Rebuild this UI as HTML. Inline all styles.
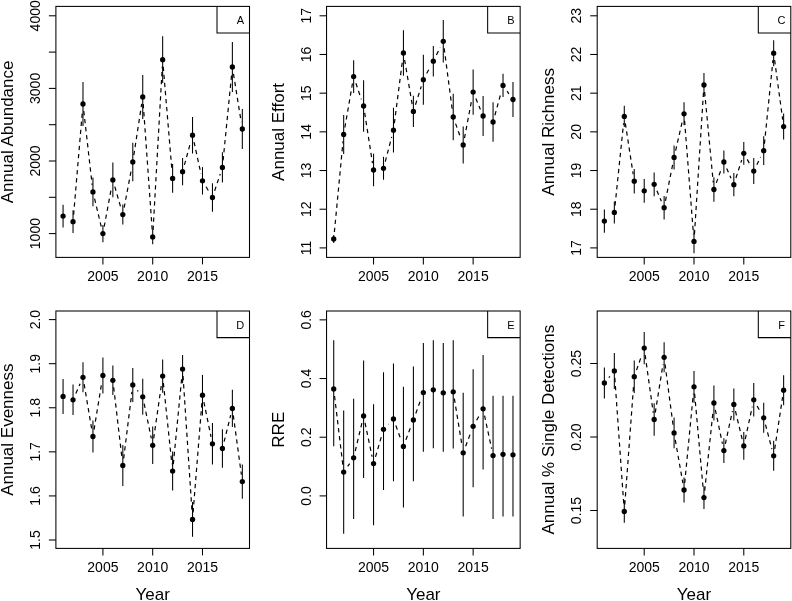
<!DOCTYPE html>
<html><head><meta charset="utf-8"><style>
html,body{margin:0;padding:0;background:#fff;}
body{width:792px;height:601px;overflow:hidden;}
svg{display:block;will-change:transform;}
text{font-family:"Liberation Sans",sans-serif;fill:#000;text-anchor:middle;}
.ax{font-size:14px;}
.lb{font-size:17px;}
.lg{font-size:11px;}
line{stroke:#000;stroke-width:1.05;}
line.d{stroke-dasharray:4.3 3.8;stroke-width:1.2;}
rect.b,path.b{fill:none;stroke:#000;stroke-width:1.05;}
circle{fill:#000;}
</style></head><body>
<svg width="792" height="601" viewBox="0 0 792 601">
<rect x="0" y="0" width="792" height="601" fill="#fff"/>
<line x1="73.62" y1="214.72" x2="82.4" y2="110.98" class="d"/>
<line x1="83.78" y1="110.96" x2="92.16" y2="184.94" class="d"/>
<line x1="94.57" y1="198.71" x2="101.28" y2="226.79" class="d"/>
<line x1="104.18" y1="226.72" x2="111.59" y2="186.78" class="d"/>
<line x1="114.8" y1="186.63" x2="120.89" y2="207.87" class="d"/>
<line x1="124.13" y1="207.72" x2="131.48" y2="168.88" class="d"/>
<line x1="133.84" y1="155.08" x2="141.68" y2="103.92" class="d"/>
<line x1="143.24" y1="103.98" x2="152.2" y2="229.92" class="d"/>
<line x1="153.09" y1="229.91" x2="162.27" y2="66.69" class="d"/>
<line x1="163.24" y1="66.68" x2="172.03" y2="171.42" class="d"/>
<line x1="184.42" y1="164.95" x2="190.69" y2="141.95" class="d"/>
<line x1="194.03" y1="142.04" x2="201" y2="173.96" class="d"/>
<line x1="206.08" y1="186.81" x2="208.87" y2="191.49" class="d"/>
<line x1="214.65" y1="190.85" x2="220.21" y2="174.05" class="d"/>
<line x1="223.1" y1="160.43" x2="231.68" y2="73.97" class="d"/>
<line x1="233.48" y1="73.91" x2="241.22" y2="122.09" class="d"/>
<line x1="63.07" y1="204.7" x2="63.07" y2="227.5"/>
<line x1="73.03" y1="210.3" x2="73.03" y2="233.1"/>
<line x1="82.99" y1="82" x2="82.99" y2="126"/>
<line x1="92.95" y1="177.6" x2="92.95" y2="206.2"/>
<line x1="102.91" y1="225" x2="102.91" y2="242.2"/>
<line x1="112.86" y1="162.6" x2="112.86" y2="197.2"/>
<line x1="122.82" y1="204.6" x2="122.82" y2="224.6"/>
<line x1="132.78" y1="142.8" x2="132.78" y2="181.2"/>
<line x1="142.74" y1="75" x2="142.74" y2="119"/>
<line x1="152.7" y1="229.6" x2="152.7" y2="244.2"/>
<line x1="162.66" y1="36.3" x2="162.66" y2="83.1"/>
<line x1="172.62" y1="164" x2="172.62" y2="192.8"/>
<line x1="182.58" y1="158.1" x2="182.58" y2="185.3"/>
<line x1="192.54" y1="116.9" x2="192.54" y2="153.5"/>
<line x1="202.49" y1="167.1" x2="202.49" y2="194.5"/>
<line x1="212.45" y1="183.2" x2="212.45" y2="211.8"/>
<line x1="222.41" y1="152.3" x2="222.41" y2="182.5"/>
<line x1="232.37" y1="42.1" x2="232.37" y2="91.9"/>
<line x1="242.33" y1="109" x2="242.33" y2="149"/>
<circle cx="63.07" cy="216.1" r="2.65"/>
<circle cx="73.03" cy="221.7" r="2.65"/>
<circle cx="82.99" cy="104" r="2.65"/>
<circle cx="92.95" cy="191.9" r="2.65"/>
<circle cx="102.91" cy="233.6" r="2.65"/>
<circle cx="112.86" cy="179.9" r="2.65"/>
<circle cx="122.82" cy="214.6" r="2.65"/>
<circle cx="132.78" cy="162" r="2.65"/>
<circle cx="142.74" cy="97" r="2.65"/>
<circle cx="152.7" cy="236.9" r="2.65"/>
<circle cx="162.66" cy="59.7" r="2.65"/>
<circle cx="172.62" cy="178.4" r="2.65"/>
<circle cx="182.58" cy="171.7" r="2.65"/>
<circle cx="192.54" cy="135.2" r="2.65"/>
<circle cx="202.49" cy="180.8" r="2.65"/>
<circle cx="212.45" cy="197.5" r="2.65"/>
<circle cx="222.41" cy="167.4" r="2.65"/>
<circle cx="232.37" cy="67" r="2.65"/>
<circle cx="242.33" cy="129" r="2.65"/>
<rect x="55.9" y="6.4" width="193.6" height="251" class="b"/>
<path d="M217 6.4V33H249.5" class="b"/>
<text x="240.3" y="23.7" class="lg">A</text>
<line x1="48.9" y1="233.6" x2="55.9" y2="233.6"/>
<text transform="translate(40,233.6) rotate(-90)" class="ax">1000</text>
<line x1="48.9" y1="197.3" x2="55.9" y2="197.3"/>
<line x1="48.9" y1="161" x2="55.9" y2="161"/>
<text transform="translate(40,161) rotate(-90)" class="ax">2000</text>
<line x1="48.9" y1="124.7" x2="55.9" y2="124.7"/>
<line x1="48.9" y1="88.4" x2="55.9" y2="88.4"/>
<text transform="translate(40,88.4) rotate(-90)" class="ax">3000</text>
<line x1="48.9" y1="52.1" x2="55.9" y2="52.1"/>
<line x1="48.9" y1="15.8" x2="55.9" y2="15.8"/>
<text transform="translate(40,15.8) rotate(-90)" class="ax">4000</text>
<line x1="102.91" y1="257.4" x2="102.91" y2="264.4"/>
<text x="102.91" y="281.1" class="ax">2005</text>
<line x1="152.7" y1="257.4" x2="152.7" y2="264.4"/>
<text x="152.7" y="281.1" class="ax">2010</text>
<line x1="202.49" y1="257.4" x2="202.49" y2="264.4"/>
<text x="202.49" y="281.1" class="ax">2015</text>
<text transform="translate(12.9,131.9) rotate(-90)" class="lb">Annual Abundance</text>
<line x1="334.38" y1="232.03" x2="343.02" y2="141.37" class="d"/>
<line x1="344.87" y1="127.5" x2="352.45" y2="83.5" class="d"/>
<line x1="355.88" y1="83.23" x2="361.35" y2="99.37" class="d"/>
<line x1="364.67" y1="112.92" x2="372.48" y2="163.08" class="d"/>
<line x1="385.28" y1="161.53" x2="391.7" y2="136.97" class="d"/>
<line x1="394.37" y1="123.26" x2="402.54" y2="59.94" class="d"/>
<line x1="404.61" y1="59.9" x2="412.21" y2="104.5" class="d"/>
<line x1="415.49" y1="104.72" x2="421.25" y2="86.38" class="d"/>
<line x1="426.67" y1="73.54" x2="429.99" y2="67.36" class="d"/>
<line x1="436.44" y1="54.94" x2="440.13" y2="47.56" class="d"/>
<line x1="444.18" y1="48.24" x2="452.31" y2="110.06" class="d"/>
<line x1="455.57" y1="123.6" x2="460.84" y2="138.4" class="d"/>
<line x1="464.48" y1="138.12" x2="471.85" y2="98.98" class="d"/>
<line x1="475.84" y1="98.56" x2="480.41" y2="109.54" class="d"/>
<line x1="494.9" y1="115.25" x2="501.18" y2="92.15" class="d"/>
<line x1="507.06" y1="91.12" x2="508.94" y2="93.78" class="d"/>
<line x1="333.72" y1="235" x2="333.72" y2="243"/>
<line x1="343.68" y1="114.9" x2="343.68" y2="153.9"/>
<line x1="353.64" y1="60.3" x2="353.64" y2="92.9"/>
<line x1="363.6" y1="80.3" x2="363.6" y2="131.7"/>
<line x1="373.56" y1="153.8" x2="373.56" y2="186.2"/>
<line x1="383.51" y1="156.9" x2="383.51" y2="179.7"/>
<line x1="393.47" y1="107.8" x2="393.47" y2="152.6"/>
<line x1="403.43" y1="30.2" x2="403.43" y2="75.8"/>
<line x1="413.39" y1="95.7" x2="413.39" y2="127.1"/>
<line x1="423.35" y1="54.7" x2="423.35" y2="104.7"/>
<line x1="433.31" y1="46" x2="433.31" y2="76.4"/>
<line x1="443.27" y1="20" x2="443.27" y2="62.6"/>
<line x1="453.23" y1="93.8" x2="453.23" y2="140.2"/>
<line x1="463.19" y1="126.6" x2="463.19" y2="163.4"/>
<line x1="473.14" y1="69.4" x2="473.14" y2="114.8"/>
<line x1="483.1" y1="96" x2="483.1" y2="136"/>
<line x1="493.06" y1="102.3" x2="493.06" y2="141.7"/>
<line x1="503.02" y1="73.7" x2="503.02" y2="97.1"/>
<line x1="512.98" y1="81.9" x2="512.98" y2="117.1"/>
<circle cx="333.72" cy="239" r="2.65"/>
<circle cx="343.68" cy="134.4" r="2.65"/>
<circle cx="353.64" cy="76.6" r="2.65"/>
<circle cx="363.6" cy="106" r="2.65"/>
<circle cx="373.56" cy="170" r="2.65"/>
<circle cx="383.51" cy="168.3" r="2.65"/>
<circle cx="393.47" cy="130.2" r="2.65"/>
<circle cx="403.43" cy="53" r="2.65"/>
<circle cx="413.39" cy="111.4" r="2.65"/>
<circle cx="423.35" cy="79.7" r="2.65"/>
<circle cx="433.31" cy="61.2" r="2.65"/>
<circle cx="443.27" cy="41.3" r="2.65"/>
<circle cx="453.23" cy="117" r="2.65"/>
<circle cx="463.19" cy="145" r="2.65"/>
<circle cx="473.14" cy="92.1" r="2.65"/>
<circle cx="483.1" cy="116" r="2.65"/>
<circle cx="493.06" cy="122" r="2.65"/>
<circle cx="503.02" cy="85.4" r="2.65"/>
<circle cx="512.98" cy="99.5" r="2.65"/>
<rect x="326.55" y="6.4" width="193.6" height="251" class="b"/>
<path d="M487.65 6.4V33H520.15" class="b"/>
<text x="510.95" y="23.7" class="lg">B</text>
<line x1="319.55" y1="247.9" x2="326.55" y2="247.9"/>
<text transform="translate(310.65,247.9) rotate(-90)" class="ax">11</text>
<line x1="319.55" y1="209.22" x2="326.55" y2="209.22"/>
<text transform="translate(310.65,209.22) rotate(-90)" class="ax">12</text>
<line x1="319.55" y1="170.53" x2="326.55" y2="170.53"/>
<text transform="translate(310.65,170.53) rotate(-90)" class="ax">13</text>
<line x1="319.55" y1="131.85" x2="326.55" y2="131.85"/>
<text transform="translate(310.65,131.85) rotate(-90)" class="ax">14</text>
<line x1="319.55" y1="93.17" x2="326.55" y2="93.17"/>
<text transform="translate(310.65,93.17) rotate(-90)" class="ax">15</text>
<line x1="319.55" y1="54.48" x2="326.55" y2="54.48"/>
<text transform="translate(310.65,54.48) rotate(-90)" class="ax">16</text>
<line x1="319.55" y1="15.8" x2="326.55" y2="15.8"/>
<text transform="translate(310.65,15.8) rotate(-90)" class="ax">17</text>
<line x1="373.56" y1="257.4" x2="373.56" y2="264.4"/>
<text x="373.56" y="281.1" class="ax">2005</text>
<line x1="423.35" y1="257.4" x2="423.35" y2="264.4"/>
<text x="423.35" y="281.1" class="ax">2010</text>
<line x1="473.14" y1="257.4" x2="473.14" y2="264.4"/>
<text x="473.14" y="281.1" class="ax">2015</text>
<text transform="translate(283.55,131.9) rotate(-90)" class="lb">Annual Effort</text>
<line x1="615.05" y1="205.44" x2="623.57" y2="123.36" class="d"/>
<line x1="625.35" y1="123.32" x2="633.18" y2="174.28" class="d"/>
<line x1="656.91" y1="190.74" x2="661.38" y2="201.26" class="d"/>
<line x1="665.48" y1="200.83" x2="672.72" y2="164.27" class="d"/>
<line x1="675.64" y1="150.58" x2="682.48" y2="120.62" class="d"/>
<line x1="684.59" y1="120.78" x2="693.46" y2="234.42" class="d"/>
<line x1="694.44" y1="234.41" x2="703.51" y2="91.99" class="d"/>
<line x1="704.62" y1="91.97" x2="713.25" y2="182.53" class="d"/>
<line x1="716.3" y1="182.92" x2="721.49" y2="168.58" class="d"/>
<line x1="726.69" y1="168.41" x2="731.02" y2="178.29" class="d"/>
<line x1="735.95" y1="178.03" x2="741.68" y2="159.97" class="d"/>
<line x1="747.21" y1="159.41" x2="750.34" y2="164.99" class="d"/>
<line x1="756.82" y1="164.81" x2="760.64" y2="156.99" class="d"/>
<line x1="764.42" y1="143.74" x2="772.96" y2="60.16" class="d"/>
<line x1="774.61" y1="60.14" x2="782.69" y2="119.66" class="d"/>
<line x1="604.37" y1="209.4" x2="604.37" y2="232.8"/>
<line x1="614.33" y1="201.4" x2="614.33" y2="223.4"/>
<line x1="624.29" y1="105.7" x2="624.29" y2="127.1"/>
<line x1="634.25" y1="169" x2="634.25" y2="193.4"/>
<line x1="644.21" y1="178.9" x2="644.21" y2="202.7"/>
<line x1="654.16" y1="172.4" x2="654.16" y2="196.2"/>
<line x1="664.12" y1="196" x2="664.12" y2="219.4"/>
<line x1="674.08" y1="145.4" x2="674.08" y2="169.4"/>
<line x1="684.04" y1="102.3" x2="684.04" y2="125.3"/>
<line x1="694" y1="229.6" x2="694" y2="253.2"/>
<line x1="703.96" y1="73.1" x2="703.96" y2="96.9"/>
<line x1="713.92" y1="177.2" x2="713.92" y2="201.8"/>
<line x1="723.88" y1="150.4" x2="723.88" y2="173.6"/>
<line x1="733.84" y1="173.1" x2="733.84" y2="196.3"/>
<line x1="743.79" y1="141.9" x2="743.79" y2="164.7"/>
<line x1="753.75" y1="158.1" x2="753.75" y2="184.1"/>
<line x1="763.71" y1="136.3" x2="763.71" y2="165.1"/>
<line x1="773.67" y1="40.2" x2="773.67" y2="66.2"/>
<line x1="783.63" y1="113.6" x2="783.63" y2="139.6"/>
<circle cx="604.37" cy="221.1" r="2.65"/>
<circle cx="614.33" cy="212.4" r="2.65"/>
<circle cx="624.29" cy="116.4" r="2.65"/>
<circle cx="634.25" cy="181.2" r="2.65"/>
<circle cx="644.21" cy="190.8" r="2.65"/>
<circle cx="654.16" cy="184.3" r="2.65"/>
<circle cx="664.12" cy="207.7" r="2.65"/>
<circle cx="674.08" cy="157.4" r="2.65"/>
<circle cx="684.04" cy="113.8" r="2.65"/>
<circle cx="694" cy="241.4" r="2.65"/>
<circle cx="703.96" cy="85" r="2.65"/>
<circle cx="713.92" cy="189.5" r="2.65"/>
<circle cx="723.88" cy="162" r="2.65"/>
<circle cx="733.84" cy="184.7" r="2.65"/>
<circle cx="743.79" cy="153.3" r="2.65"/>
<circle cx="753.75" cy="171.1" r="2.65"/>
<circle cx="763.71" cy="150.7" r="2.65"/>
<circle cx="773.67" cy="53.2" r="2.65"/>
<circle cx="783.63" cy="126.6" r="2.65"/>
<rect x="597.2" y="6.4" width="193.6" height="251" class="b"/>
<path d="M758.3 6.4V33H790.8" class="b"/>
<text x="781.6" y="23.7" class="lg">C</text>
<line x1="590.2" y1="247.9" x2="597.2" y2="247.9"/>
<text transform="translate(581.3,247.9) rotate(-90)" class="ax">17</text>
<line x1="590.2" y1="209.22" x2="597.2" y2="209.22"/>
<text transform="translate(581.3,209.22) rotate(-90)" class="ax">18</text>
<line x1="590.2" y1="170.53" x2="597.2" y2="170.53"/>
<text transform="translate(581.3,170.53) rotate(-90)" class="ax">19</text>
<line x1="590.2" y1="131.85" x2="597.2" y2="131.85"/>
<text transform="translate(581.3,131.85) rotate(-90)" class="ax">20</text>
<line x1="590.2" y1="93.17" x2="597.2" y2="93.17"/>
<text transform="translate(581.3,93.17) rotate(-90)" class="ax">21</text>
<line x1="590.2" y1="54.48" x2="597.2" y2="54.48"/>
<text transform="translate(581.3,54.48) rotate(-90)" class="ax">22</text>
<line x1="590.2" y1="15.8" x2="597.2" y2="15.8"/>
<text transform="translate(581.3,15.8) rotate(-90)" class="ax">23</text>
<line x1="644.21" y1="257.4" x2="644.21" y2="264.4"/>
<text x="644.21" y="281.1" class="ax">2005</text>
<line x1="694" y1="257.4" x2="694" y2="264.4"/>
<text x="694" y="281.1" class="ax">2010</text>
<line x1="743.79" y1="257.4" x2="743.79" y2="264.4"/>
<text x="743.79" y="281.1" class="ax">2015</text>
<text transform="translate(554.2,131.9) rotate(-90)" class="lb">Annual Richness</text>
<line x1="75.86" y1="393.4" x2="80.15" y2="383.7" class="d"/>
<line x1="84.15" y1="384.2" x2="91.79" y2="429.6" class="d"/>
<line x1="94.07" y1="429.59" x2="101.78" y2="382.41" class="d"/>
<line x1="113.68" y1="387.25" x2="122.01" y2="458.55" class="d"/>
<line x1="123.68" y1="458.55" x2="131.92" y2="391.85" class="d"/>
<line x1="137.27" y1="390.27" x2="138.25" y2="391.43" class="d"/>
<line x1="144.15" y1="403.66" x2="151.29" y2="438.44" class="d"/>
<line x1="153.7" y1="438.37" x2="161.66" y2="383.03" class="d"/>
<line x1="163.39" y1="383.06" x2="171.89" y2="464.14" class="d"/>
<line x1="173.3" y1="464.13" x2="181.9" y2="376.07" class="d"/>
<line x1="183.04" y1="376.08" x2="192.07" y2="512.42" class="d"/>
<line x1="193.09" y1="512.42" x2="201.93" y2="402.18" class="d"/>
<line x1="203.9" y1="402.06" x2="211.05" y2="436.94" class="d"/>
<line x1="224.1" y1="441.71" x2="230.68" y2="415.19" class="d"/>
<line x1="233.31" y1="415.34" x2="241.39" y2="474.66" class="d"/>
<line x1="63.07" y1="378.9" x2="63.07" y2="413.9"/>
<line x1="73.03" y1="384.6" x2="73.03" y2="415"/>
<line x1="82.99" y1="362.3" x2="82.99" y2="392.3"/>
<line x1="92.95" y1="420.5" x2="92.95" y2="452.5"/>
<line x1="102.91" y1="357.5" x2="102.91" y2="393.5"/>
<line x1="112.86" y1="365.5" x2="112.86" y2="395.1"/>
<line x1="122.82" y1="445" x2="122.82" y2="486"/>
<line x1="132.78" y1="367.9" x2="132.78" y2="401.9"/>
<line x1="142.74" y1="378.8" x2="142.74" y2="414.8"/>
<line x1="152.7" y1="426.6" x2="152.7" y2="464"/>
<line x1="162.66" y1="359.5" x2="162.66" y2="392.7"/>
<line x1="172.62" y1="451.6" x2="172.62" y2="490.6"/>
<line x1="182.58" y1="354.9" x2="182.58" y2="383.3"/>
<line x1="192.54" y1="502" x2="192.54" y2="536.8"/>
<line x1="202.49" y1="374.9" x2="202.49" y2="415.5"/>
<line x1="212.45" y1="423.1" x2="212.45" y2="464.5"/>
<line x1="222.41" y1="429.2" x2="222.41" y2="467.8"/>
<line x1="232.37" y1="389.8" x2="232.37" y2="427"/>
<line x1="242.33" y1="464.5" x2="242.33" y2="498.7"/>
<circle cx="63.07" cy="396.4" r="2.65"/>
<circle cx="73.03" cy="399.8" r="2.65"/>
<circle cx="82.99" cy="377.3" r="2.65"/>
<circle cx="92.95" cy="436.5" r="2.65"/>
<circle cx="102.91" cy="375.5" r="2.65"/>
<circle cx="112.86" cy="380.3" r="2.65"/>
<circle cx="122.82" cy="465.5" r="2.65"/>
<circle cx="132.78" cy="384.9" r="2.65"/>
<circle cx="142.74" cy="396.8" r="2.65"/>
<circle cx="152.7" cy="445.3" r="2.65"/>
<circle cx="162.66" cy="376.1" r="2.65"/>
<circle cx="172.62" cy="471.1" r="2.65"/>
<circle cx="182.58" cy="369.1" r="2.65"/>
<circle cx="192.54" cy="519.4" r="2.65"/>
<circle cx="202.49" cy="395.2" r="2.65"/>
<circle cx="212.45" cy="443.8" r="2.65"/>
<circle cx="222.41" cy="448.5" r="2.65"/>
<circle cx="232.37" cy="408.4" r="2.65"/>
<circle cx="242.33" cy="481.6" r="2.65"/>
<rect x="55.9" y="311" width="193.6" height="237.4" class="b"/>
<path d="M217 311V337.6H249.5" class="b"/>
<text x="240.3" y="328.9" class="lg">D</text>
<line x1="48.9" y1="540" x2="55.9" y2="540"/>
<text transform="translate(40,540) rotate(-90)" class="ax">1.5</text>
<line x1="48.9" y1="495.92" x2="55.9" y2="495.92"/>
<text transform="translate(40,495.92) rotate(-90)" class="ax">1.6</text>
<line x1="48.9" y1="451.84" x2="55.9" y2="451.84"/>
<text transform="translate(40,451.84) rotate(-90)" class="ax">1.7</text>
<line x1="48.9" y1="407.76" x2="55.9" y2="407.76"/>
<text transform="translate(40,407.76) rotate(-90)" class="ax">1.8</text>
<line x1="48.9" y1="363.68" x2="55.9" y2="363.68"/>
<text transform="translate(40,363.68) rotate(-90)" class="ax">1.9</text>
<line x1="48.9" y1="319.6" x2="55.9" y2="319.6"/>
<text transform="translate(40,319.6) rotate(-90)" class="ax">2.0</text>
<line x1="102.91" y1="548.4" x2="102.91" y2="555.4"/>
<text x="102.91" y="572.1" class="ax">2005</text>
<line x1="152.7" y1="548.4" x2="152.7" y2="555.4"/>
<text x="152.7" y="572.1" class="ax">2010</text>
<line x1="202.49" y1="548.4" x2="202.49" y2="555.4"/>
<text x="202.49" y="572.1" class="ax">2015</text>
<text transform="translate(12.9,429.7) rotate(-90)" class="lb">Annual Evenness</text>
<text x="152.7" y="599.6" class="lb">Year</text>
<line x1="334.55" y1="395.95" x2="342.85" y2="465.15" class="d"/>
<line x1="347.68" y1="466.36" x2="349.64" y2="463.54" class="d"/>
<line x1="355.26" y1="450.99" x2="361.97" y2="422.81" class="d"/>
<line x1="365.03" y1="422.85" x2="372.12" y2="456.75" class="d"/>
<line x1="375.51" y1="456.88" x2="381.56" y2="436.02" class="d"/>
<line x1="388.38" y1="424.27" x2="388.61" y2="424.03" class="d"/>
<line x1="395.86" y1="425.58" x2="401.04" y2="439.82" class="d"/>
<line x1="405.9" y1="439.85" x2="410.92" y2="426.55" class="d"/>
<line x1="415.78" y1="413.42" x2="420.96" y2="399.18" class="d"/>
<line x1="454.35" y1="398.71" x2="462.06" y2="445.89" class="d"/>
<line x1="465.65" y1="446.25" x2="470.68" y2="432.85" class="d"/>
<line x1="476.61" y1="420.22" x2="479.64" y2="414.88" class="d"/>
<line x1="484.56" y1="415.65" x2="491.6" y2="448.75" class="d"/>
<line x1="333.72" y1="340.3" x2="333.72" y2="446.2"/>
<line x1="343.68" y1="410.4" x2="343.68" y2="533.7"/>
<line x1="353.64" y1="398.8" x2="353.64" y2="519.1"/>
<line x1="363.6" y1="360.5" x2="363.6" y2="477.9"/>
<line x1="373.56" y1="404.2" x2="373.56" y2="525.2"/>
<line x1="383.51" y1="372.3" x2="383.51" y2="490"/>
<line x1="393.47" y1="363.5" x2="393.47" y2="481.2"/>
<line x1="403.43" y1="386.8" x2="403.43" y2="507.6"/>
<line x1="413.39" y1="366.5" x2="413.39" y2="481.2"/>
<line x1="423.35" y1="342.9" x2="423.35" y2="451.8"/>
<line x1="433.31" y1="340.3" x2="433.31" y2="448.3"/>
<line x1="443.27" y1="342.9" x2="443.27" y2="451.8"/>
<line x1="453.23" y1="340.3" x2="453.23" y2="448.5"/>
<line x1="463.19" y1="392.8" x2="463.19" y2="516.6"/>
<line x1="473.14" y1="369.3" x2="473.14" y2="487.2"/>
<line x1="483.1" y1="354.9" x2="483.1" y2="469.4"/>
<line x1="493.06" y1="395.8" x2="493.06" y2="519.1"/>
<line x1="503.02" y1="395.8" x2="503.02" y2="516.6"/>
<line x1="512.98" y1="395.8" x2="512.98" y2="516.6"/>
<circle cx="333.72" cy="389" r="2.65"/>
<circle cx="343.68" cy="472.1" r="2.65"/>
<circle cx="353.64" cy="457.8" r="2.65"/>
<circle cx="363.6" cy="416" r="2.65"/>
<circle cx="373.56" cy="463.6" r="2.65"/>
<circle cx="383.51" cy="429.3" r="2.65"/>
<circle cx="393.47" cy="419" r="2.65"/>
<circle cx="403.43" cy="446.4" r="2.65"/>
<circle cx="413.39" cy="420" r="2.65"/>
<circle cx="423.35" cy="392.6" r="2.65"/>
<circle cx="433.31" cy="389.8" r="2.65"/>
<circle cx="443.27" cy="392.8" r="2.65"/>
<circle cx="453.23" cy="391.8" r="2.65"/>
<circle cx="463.19" cy="452.8" r="2.65"/>
<circle cx="473.14" cy="426.3" r="2.65"/>
<circle cx="483.1" cy="408.8" r="2.65"/>
<circle cx="493.06" cy="455.6" r="2.65"/>
<circle cx="503.02" cy="454.3" r="2.65"/>
<circle cx="512.98" cy="454.8" r="2.65"/>
<rect x="326.55" y="311" width="193.6" height="237.4" class="b"/>
<path d="M487.65 311V337.6H520.15" class="b"/>
<text x="510.95" y="328.9" class="lg">E</text>
<line x1="319.55" y1="495.9" x2="326.55" y2="495.9"/>
<text transform="translate(310.65,495.9) rotate(-90)" class="ax">0.0</text>
<line x1="319.55" y1="437.22" x2="326.55" y2="437.22"/>
<text transform="translate(310.65,437.22) rotate(-90)" class="ax">0.2</text>
<line x1="319.55" y1="378.53" x2="326.55" y2="378.53"/>
<text transform="translate(310.65,378.53) rotate(-90)" class="ax">0.4</text>
<line x1="319.55" y1="319.85" x2="326.55" y2="319.85"/>
<text transform="translate(310.65,319.85) rotate(-90)" class="ax">0.6</text>
<line x1="373.56" y1="548.4" x2="373.56" y2="555.4"/>
<text x="373.56" y="572.1" class="ax">2005</text>
<line x1="423.35" y1="548.4" x2="423.35" y2="555.4"/>
<text x="423.35" y="572.1" class="ax">2010</text>
<line x1="473.14" y1="548.4" x2="473.14" y2="555.4"/>
<text x="473.14" y="572.1" class="ax">2015</text>
<text transform="translate(283.55,429.7) rotate(-90)" class="lb">RRE</text>
<text x="423.35" y="599.6" class="lb">Year</text>
<line x1="608.84" y1="377.51" x2="609.86" y2="376.29" class="d"/>
<line x1="614.82" y1="377.88" x2="623.79" y2="504.52" class="d"/>
<line x1="624.8" y1="504.52" x2="633.73" y2="383.68" class="d"/>
<line x1="636.55" y1="370.09" x2="641.9" y2="354.71" class="d"/>
<line x1="645.17" y1="355.03" x2="653.2" y2="412.57" class="d"/>
<line x1="655.27" y1="412.59" x2="663.02" y2="364.21" class="d"/>
<line x1="665.04" y1="364.24" x2="673.17" y2="425.96" class="d"/>
<line x1="675.29" y1="439.8" x2="682.84" y2="483.1" class="d"/>
<line x1="684.71" y1="483.03" x2="693.33" y2="393.77" class="d"/>
<line x1="694.63" y1="393.77" x2="703.33" y2="490.63" class="d"/>
<line x1="704.69" y1="490.64" x2="713.18" y2="409.96" class="d"/>
<line x1="715.35" y1="409.85" x2="722.44" y2="443.75" class="d"/>
<line x1="725.35" y1="443.76" x2="732.36" y2="411.24" class="d"/>
<line x1="735.47" y1="411.21" x2="742.16" y2="439.09" class="d"/>
<line x1="745.27" y1="439.06" x2="752.27" y2="406.64" class="d"/>
<line x1="757.14" y1="405.93" x2="760.32" y2="411.67" class="d"/>
<line x1="765.49" y1="424.57" x2="771.9" y2="449.03" class="d"/>
<line x1="774.72" y1="448.88" x2="782.58" y2="397.12" class="d"/>
<line x1="604.37" y1="367.4" x2="604.37" y2="398.4"/>
<line x1="614.33" y1="352.9" x2="614.33" y2="388.9"/>
<line x1="624.29" y1="500.3" x2="624.29" y2="522.7"/>
<line x1="634.25" y1="360.5" x2="634.25" y2="392.9"/>
<line x1="644.21" y1="331.9" x2="644.21" y2="364.3"/>
<line x1="654.16" y1="403.3" x2="654.16" y2="435.7"/>
<line x1="664.12" y1="342.3" x2="664.12" y2="372.3"/>
<line x1="674.08" y1="417.5" x2="674.08" y2="448.3"/>
<line x1="684.04" y1="477.5" x2="684.04" y2="502.5"/>
<line x1="694" y1="370.9" x2="694" y2="402.7"/>
<line x1="703.96" y1="486.3" x2="703.96" y2="508.9"/>
<line x1="713.92" y1="385.5" x2="713.92" y2="420.5"/>
<line x1="723.88" y1="438.3" x2="723.88" y2="462.9"/>
<line x1="733.84" y1="388.4" x2="733.84" y2="420.4"/>
<line x1="743.79" y1="432" x2="743.79" y2="459.8"/>
<line x1="753.75" y1="383.1" x2="753.75" y2="416.5"/>
<line x1="763.71" y1="402.8" x2="763.71" y2="432.8"/>
<line x1="773.67" y1="440.8" x2="773.67" y2="470.8"/>
<line x1="783.63" y1="375.2" x2="783.63" y2="405.2"/>
<circle cx="604.37" cy="382.9" r="2.65"/>
<circle cx="614.33" cy="370.9" r="2.65"/>
<circle cx="624.29" cy="511.5" r="2.65"/>
<circle cx="634.25" cy="376.7" r="2.65"/>
<circle cx="644.21" cy="348.1" r="2.65"/>
<circle cx="654.16" cy="419.5" r="2.65"/>
<circle cx="664.12" cy="357.3" r="2.65"/>
<circle cx="674.08" cy="432.9" r="2.65"/>
<circle cx="684.04" cy="490" r="2.65"/>
<circle cx="694" cy="386.8" r="2.65"/>
<circle cx="703.96" cy="497.6" r="2.65"/>
<circle cx="713.92" cy="403" r="2.65"/>
<circle cx="723.88" cy="450.6" r="2.65"/>
<circle cx="733.84" cy="404.4" r="2.65"/>
<circle cx="743.79" cy="445.9" r="2.65"/>
<circle cx="753.75" cy="399.8" r="2.65"/>
<circle cx="763.71" cy="417.8" r="2.65"/>
<circle cx="773.67" cy="455.8" r="2.65"/>
<circle cx="783.63" cy="390.2" r="2.65"/>
<rect x="597.2" y="311" width="193.6" height="237.4" class="b"/>
<path d="M758.3 311V337.6H790.8" class="b"/>
<text x="781.6" y="328.9" class="lg">F</text>
<line x1="590.2" y1="510.5" x2="597.2" y2="510.5"/>
<text transform="translate(581.3,510.5) rotate(-90)" class="ax">0.15</text>
<line x1="590.2" y1="437" x2="597.2" y2="437"/>
<text transform="translate(581.3,437) rotate(-90)" class="ax">0.20</text>
<line x1="590.2" y1="363.5" x2="597.2" y2="363.5"/>
<text transform="translate(581.3,363.5) rotate(-90)" class="ax">0.25</text>
<line x1="644.21" y1="548.4" x2="644.21" y2="555.4"/>
<text x="644.21" y="572.1" class="ax">2005</text>
<line x1="694" y1="548.4" x2="694" y2="555.4"/>
<text x="694" y="572.1" class="ax">2010</text>
<line x1="743.79" y1="548.4" x2="743.79" y2="555.4"/>
<text x="743.79" y="572.1" class="ax">2015</text>
<text transform="translate(554.2,429.7) rotate(-90)" class="lb">Annual % Single Detections</text>
<text x="694" y="599.6" class="lb">Year</text>
</svg>
</body></html>
